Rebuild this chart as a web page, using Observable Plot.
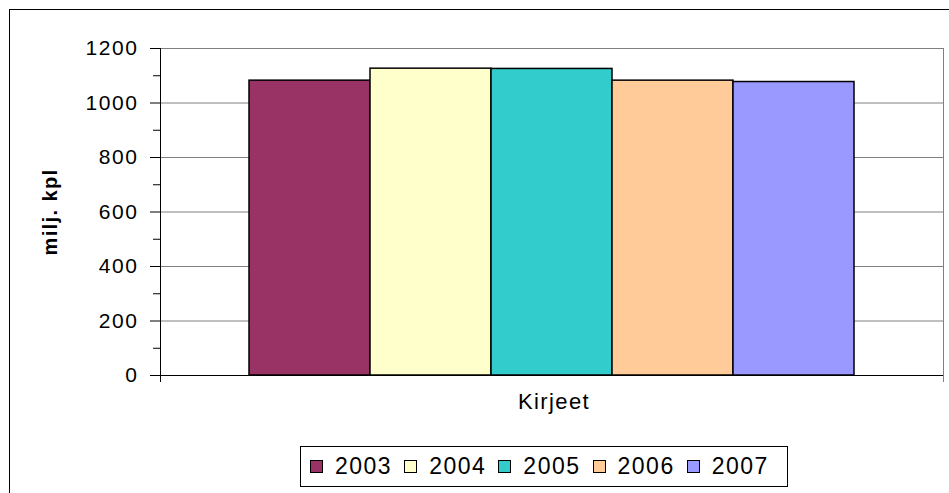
<!DOCTYPE html>
<html>
<head>
<meta charset="utf-8">
<script src="https://cdn.jsdelivr.net/npm/d3@7"></script>
<script src="https://cdn.jsdelivr.net/npm/@observablehq/plot@0.6"></script>
<style>
  html, body { margin: 0; padding: 0; background: #fff; overflow: hidden; width: 949px; height: 493px; }
  #wrap { position: relative; width: 949px; height: 493px; font-family: "Liberation Sans", Arial, sans-serif; }
  #border { position: absolute; left: 9px; top: 9px; width: 960px; height: 520px; border: 1px solid #000; box-sizing: border-box; }
  #chart { position: absolute; left: 0; top: 0; }
  #chart svg text { letter-spacing: 1.6px; }
  #legend { position: absolute; left: 300px; top: 446px; width: 488px; height: 41px; border: 1px solid #000; box-sizing: border-box;
            display: flex; align-items: center; justify-content: flex-start; padding-left: 9px; font-size: 23px; letter-spacing: 1.5px; color: #000; }
  .item { display: flex; align-items: center; margin-right: 12px; }
  .sw { width: 13px; height: 13px; border: 1px solid #000; box-sizing: border-box; margin-right: 12px; }
</style>
</head>
<body>
<div id="wrap">
  <div id="border"></div>
  <div id="chart"></div>
  <div id="legend"></div>
</div>
<script>
const categories = ["Kirjeet"];
const years = ["2003", "2004", "2005", "2006", "2007"];
const values = [1082, 1126, 1125, 1082, 1077];
const colors = ["#993366", "#FFFFCC", "#33CCCC", "#FFCC99", "#9999FF"];
const yMajorTicks = [0, 200, 400, 600, 800, 1000, 1200];
const yMinorTicks = [100, 300, 500, 700, 900, 1100];
const yLabel = "milj. kpl";

const data = years.map((y, i) => ({year: y, value: values[i], category: categories[0]}));

const chart = Plot.plot({
  width: 949,
  height: 420,
  marginLeft: 160,
  marginRight: 6,
  marginTop: 48,
  marginBottom: 45,
  style: {fontFamily: "'Liberation Sans', Arial, sans-serif", fontSize: "21px", background: "transparent", overflow: "visible", color: "#000"},
  x: {domain: years, paddingInner: 0, paddingOuter: 0.735, axis: null},
  y: {domain: [0, 1200], axis: null},
  color: {domain: years, range: colors},
  marks: [
    Plot.gridY(yMajorTicks, {stroke: "#808080", strokeOpacity: 1}),
    Plot.frame({anchor: "right", stroke: "#808080", insetBottom: -6}),
    Plot.barY(data, {x: "year", y: "value", fill: "year", stroke: "#000", strokeWidth: 1.5}),
    Plot.ruleY([0], {stroke: "#000"}),
    Plot.frame({anchor: "left", stroke: "#000", insetBottom: -6}),
    Plot.axisY(yMinorTicks, {tickSize: 7, tickFormat: () => "", label: null, stroke: "#000"}),
    Plot.axisY(yMajorTicks, {tickSize: 10, tickPadding: 12, tickFormat: d3.format("d"), label: null, stroke: "#000", fill: "#000", fontSize: 21}),
    Plot.text([yLabel], {frameAnchor: "left", textAnchor: "middle", dx: -110, rotate: -90, fontWeight: "bold", fontSize: 20, fill: "#000"}),
    Plot.text(categories, {frameAnchor: "bottom", dx: 2, dy: 33, fontSize: 22, fill: "#000"})
  ]
});
document.getElementById("chart").appendChild(chart);
d3.select(chart).selectAll('g[aria-label="text"] text').style("letter-spacing", "1.4px");

const legend = document.getElementById("legend");
years.forEach((y, i) => {
  const item = document.createElement("div");
  item.className = "item";
  const sw = document.createElement("div");
  sw.className = "sw";
  sw.style.background = colors[i];
  const t = document.createElement("span");
  t.textContent = y;
  item.appendChild(sw);
  item.appendChild(t);
  legend.appendChild(item);
});
</script>
</body>
</html>
